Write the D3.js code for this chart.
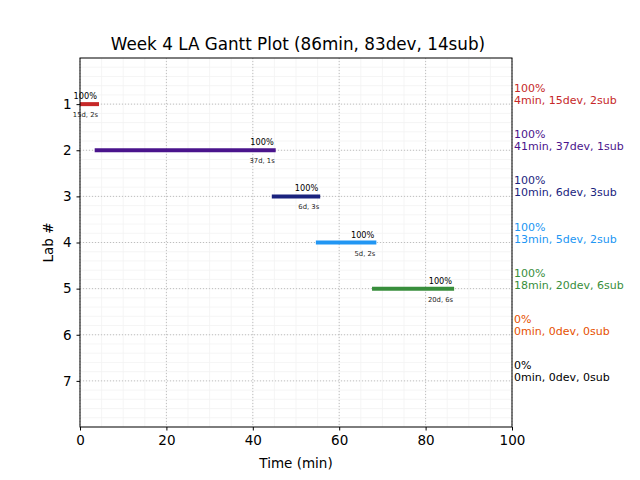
<!DOCTYPE html>
<html><head><meta charset="utf-8">
<script src="https://cdn.jsdelivr.net/npm/d3@7"></script>
<style>body{margin:0;background:#fff}text{font-family:"DejaVu Sans",sans-serif}</style>
</head><body><svg id="c" width="640" height="480"></svg>
<script>
const labs = [1,2,3,4,5,6,7];
const starts = [0, 3.4, 44.4, 54.6, 67.6];
const ends = [4.4, 45.3, 55.6, 68.6, 86.6];
const pct = ["100%","100%","100%","100%","100%","0%","0%"];
const mins = [4,41,10,13,18,0,0];
const devs = [15,37,6,5,20,0,0];
const subs = [2,1,3,2,6,0,0];
const colors = ["#c62828","#4a148c","#1a237e","#2196f3","#388e3c","#e65100","#000000"];
const xTicks = [0,20,40,60,80,100];
const title = "Week 4 LA Gantt Plot (86min, 83dev, 14sub)";

const svg = d3.select("#c");
const L=80,R=512,T=58,B=427;
const x = d3.scaleLinear().domain([0,100]).range([L,R]);
const y = d3.scaleLinear().domain([0,8]).range([T,B]);

// minor grid
const g = svg.append("g");
g.selectAll(".mx").data(d3.range(0,101,5)).join("line")
  .attr("x1",d=>x(d)).attr("x2",d=>x(d)).attr("y1",T).attr("y2",B)
  .attr("stroke","#f2f2f2").attr("stroke-width",0.8);
g.selectAll(".my").data(d3.range(0,8.01,0.2)).join("line")
  .attr("y1",d=>y(d)).attr("y2",d=>y(d)).attr("x1",L).attr("x2",R)
  .attr("stroke","#f2f2f2").attr("stroke-width",0.8);
// major grid
g.selectAll(".Mx").data(xTicks).join("line")
  .attr("x1",d=>x(d)).attr("x2",d=>x(d)).attr("y1",T).attr("y2",B)
  .attr("stroke","#b0b0b0").attr("stroke-width",0.8).attr("stroke-dasharray","1,2");
g.selectAll(".My").data(labs).join("line")
  .attr("y1",d=>y(d)).attr("y2",d=>y(d)).attr("x1",L).attr("x2",R)
  .attr("stroke","#b0b0b0").attr("stroke-width",0.8).attr("stroke-dasharray","1,2");

// bars
const bars = starts.map((s,i)=>({s, e:ends[i], lab:labs[i], c:colors[i], d:devs[i], sb:subs[i], p:pct[i]}));
svg.selectAll(".bar").data(bars).join("line")
  .attr("x1",d=>x(d.s)).attr("x2",d=>x(d.e)).attr("y1",d=>y(d.lab)).attr("y2",d=>y(d.lab))
  .attr("stroke",d=>d.c).attr("stroke-width",4);
svg.selectAll(".bp").data(bars).join("text")
  .attr("x",d=>x(d.e)-2).attr("y",d=>y(d.lab)-5).attr("text-anchor","end")
  .attr("font-size",8.2).attr("fill","#000").text(d=>d.p);
svg.selectAll(".bd").data(bars).join("text")
  .attr("x",d=>x(d.e)-1).attr("y",d=>y(d.lab)+13).attr("text-anchor","end")
  .attr("font-size",6.8).attr("fill","#222").text(d=>`${d.d}d, ${d.sb}s`);

// frame
svg.append("rect").attr("x",L).attr("y",T).attr("width",R-L).attr("height",B-T)
  .attr("fill","none").attr("stroke","#000").attr("stroke-width",1);

// axes
const xa = svg.append("g").attr("transform",`translate(0,${B})`)
  .call(d3.axisBottom(x).tickValues(xTicks).tickSize(3.5).tickPadding(5));
const ya = svg.append("g").attr("transform",`translate(${L},0)`)
  .call(d3.axisLeft(y).tickValues(labs).tickSize(3.5).tickPadding(5));
[xa,ya].forEach(a=>{a.select(".domain").remove();
  a.selectAll("text").attr("font-size",13.5).attr("font-family","DejaVu Sans").attr("fill","#000");
  a.selectAll("line").attr("stroke","#000");});

// right labels
const rl = svg.append("g");
labs.forEach((lab,i)=>{
  rl.append("text").attr("x",514).attr("y",y(lab)-12).attr("font-size",11).attr("fill",colors[i]).text(pct[i]);
  rl.append("text").attr("x",514).attr("y",y(lab)+0).attr("font-size",11).attr("fill",colors[i])
    .text(`${mins[i]}min, ${devs[i]}dev, ${subs[i]}sub`);
});

svg.append("text").attr("x",(L+R)/2+2).attr("y",50).attr("text-anchor","middle")
  .attr("font-size",16.8).text(title);
svg.append("text").attr("x",(L+R)/2).attr("y",468).attr("text-anchor","middle")
  .attr("font-size",13.5).text("Time (min)");
svg.append("text").attr("transform",`translate(53,${(T+B)/2}) rotate(-90)`).attr("text-anchor","middle")
  .attr("font-size",13.5).text("Lab #");
</script></body></html>
